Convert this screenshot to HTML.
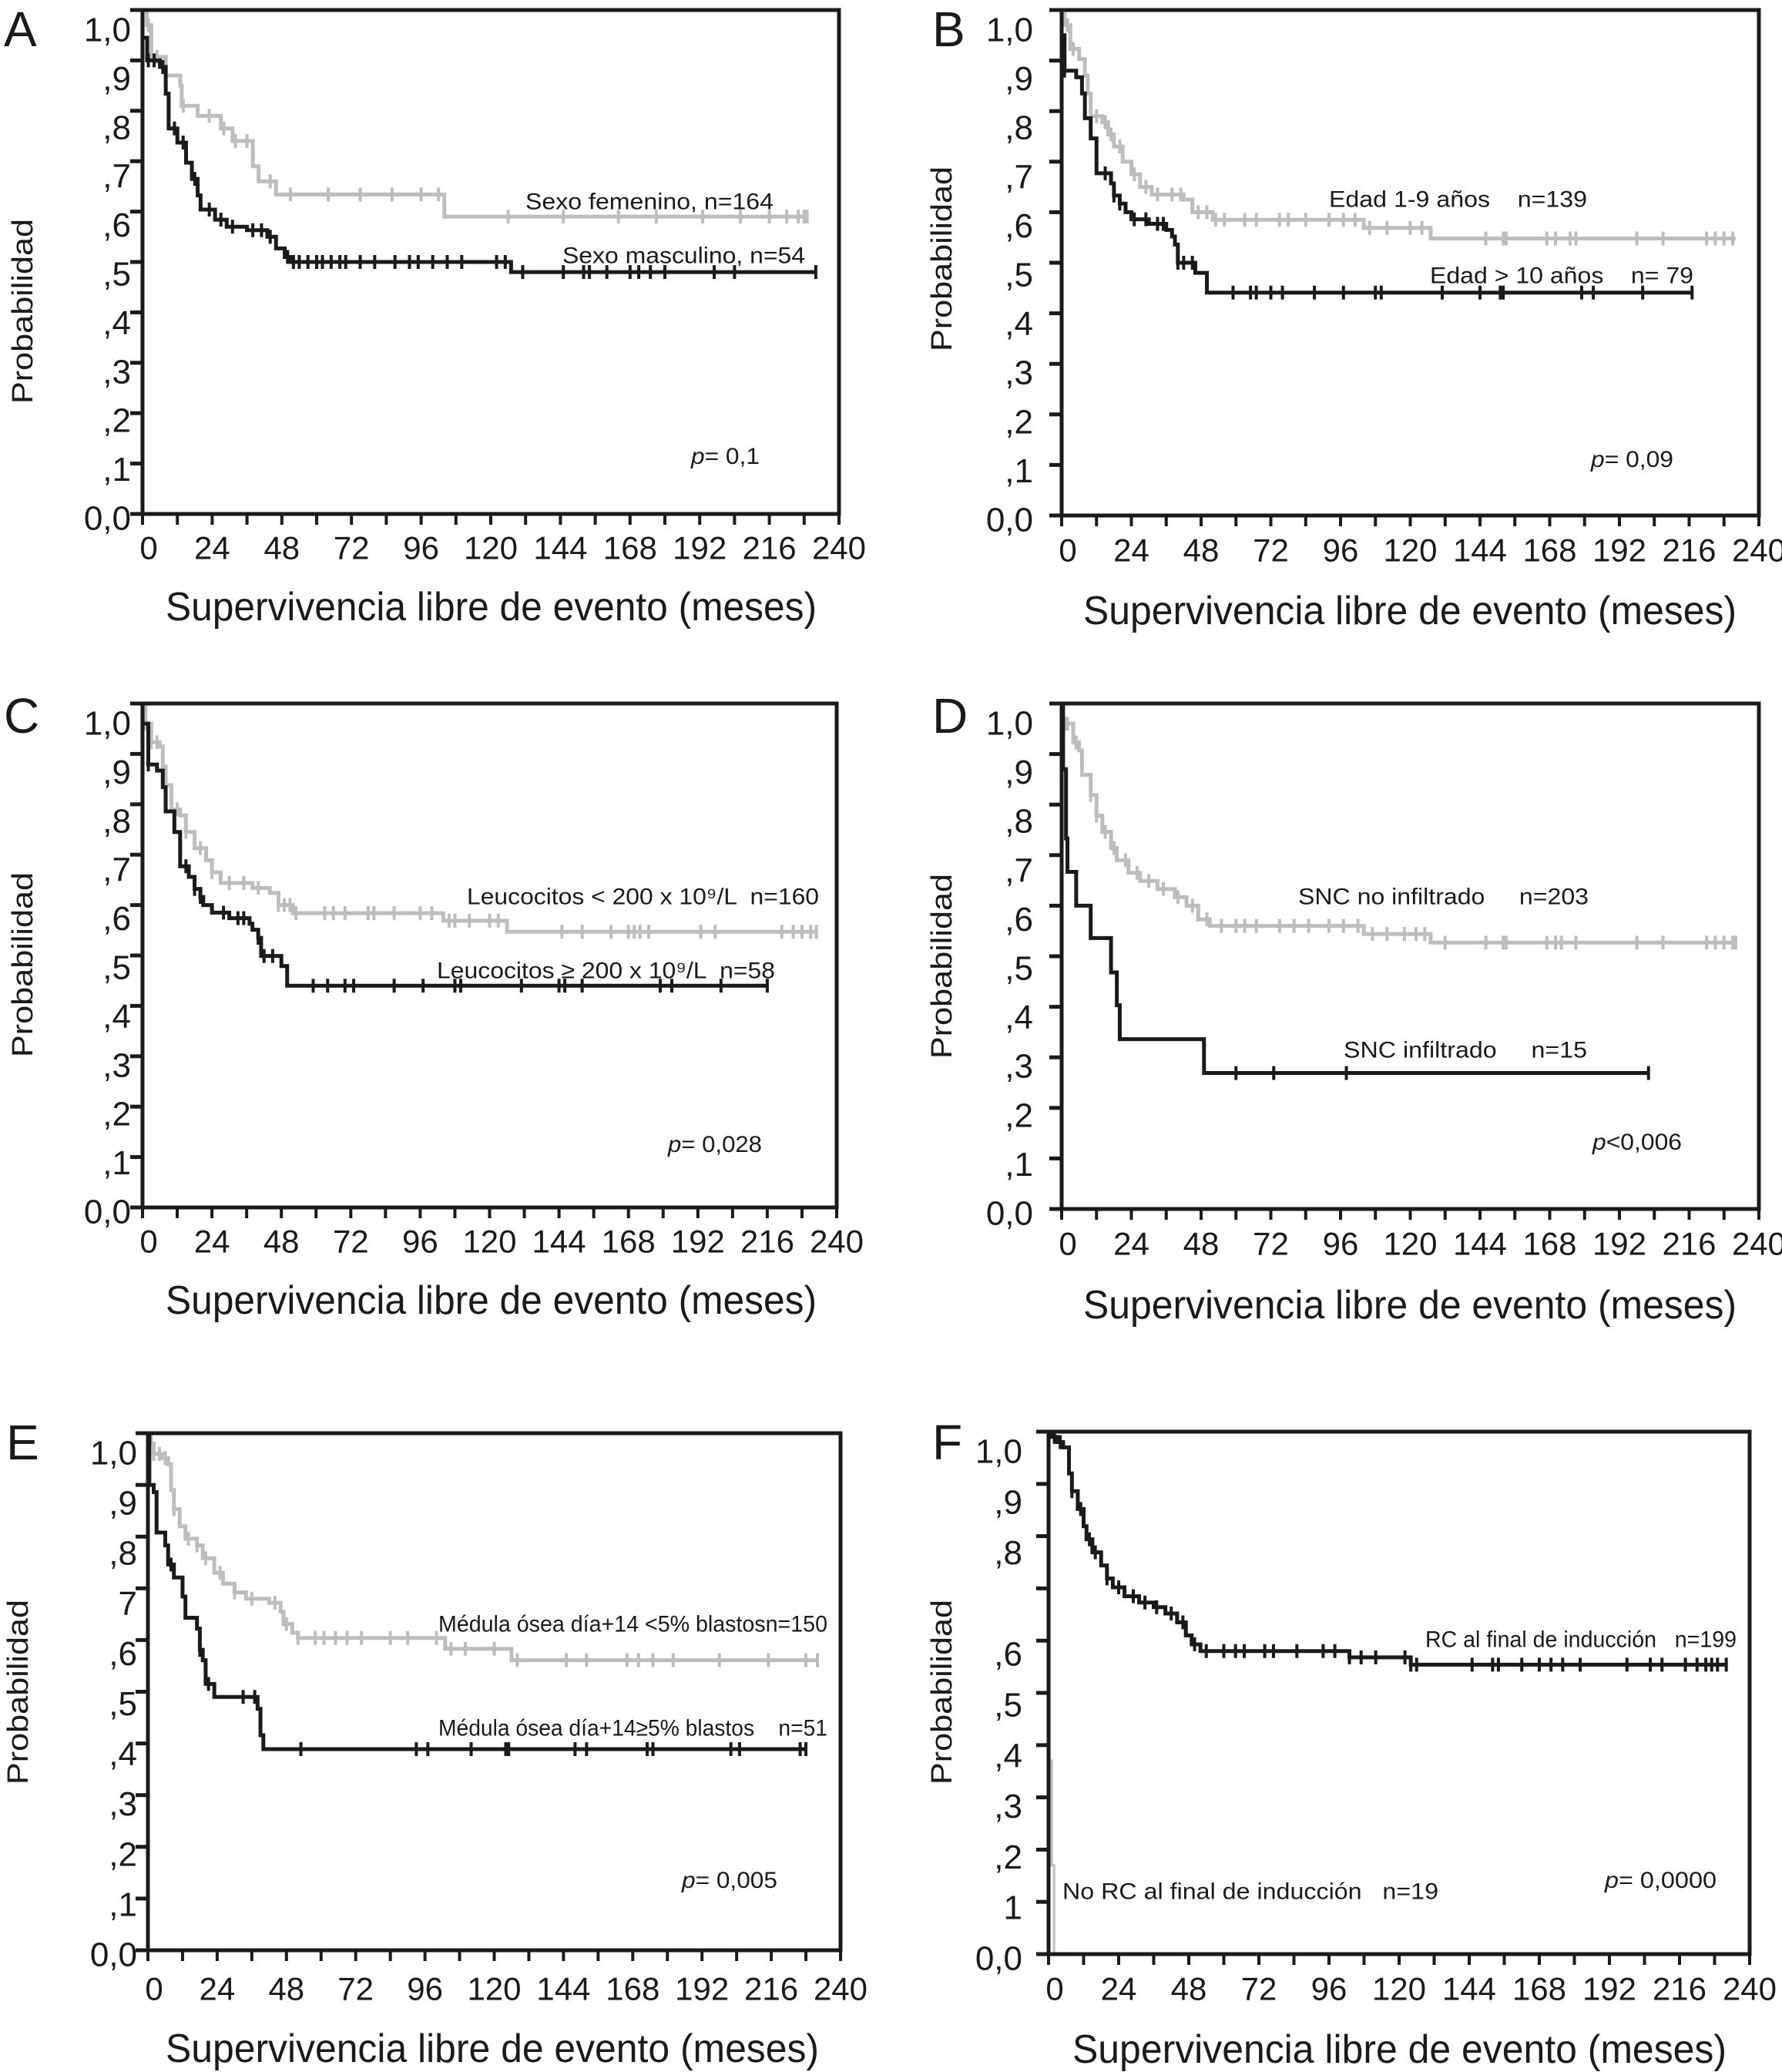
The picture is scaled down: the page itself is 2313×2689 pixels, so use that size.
<!DOCTYPE html>
<html><head><meta charset="utf-8">
<style>
html,body{margin:0;padding:0;background:#fff;}
svg{display:block;}
text{font-family:"Liberation Sans",Arial,sans-serif;fill:#1a1a1a;white-space:pre;}
</style></head>
<body>
<svg id="fig" width="2313" height="2689" viewBox="0 0 2313 2689" xmlns="http://www.w3.org/2000/svg" xml:space="preserve">
<rect x="0" y="0" width="2313" height="2689" fill="#fff"/>
</svg>
<script>
// ---- Panel A data ----
const aGrayT=[1.5,3,8,13,13.5,19,27,31,38,40,46,104];
const aGrayS=[0.97,0.907,0.87,0.85,0.81,0.79,0.765,0.74,0.69,0.66,0.634,0.59];
const aGrayEnd=229;
const aGrayC=[2,5,14,23,28,32,36,44,51,64,75,86,96,102,126,145,164,177,193,206,216,222,226,228,229];
const aBlackT=[0,1.6,6,8,9,12,15,17,19,20,25,29,36,43,46,49,51,127];
const aBlackS=[0.945,0.90,0.887,0.834,0.765,0.737,0.697,0.665,0.632,0.604,0.584,0.57,0.563,0.55,0.527,0.51,0.50,0.48];
const aBlackEnd=232;
const aBlackC=[2,4,7,11,14,18,23,27,31,38,41,44,50,52,54,57,60,62,65,68,70,75,80,87,92,95,100,105,110,122,125,131,145,152,154,160,168,171,175,180,197,204,232];
// ---- Panel B data ----
const bGrayT=[1,3,6,8,9,10,14,16,18,21,24,27,31,42,45,52,104,127];
const bGrayS=[0.97,0.923,0.903,0.87,0.835,0.79,0.778,0.754,0.73,0.70,0.675,0.65,0.635,0.625,0.60,0.585,0.569,0.548];
const bGrayEnd=232;
const bGrayC=[2,4,12,15,17,20,25,29,33,38,41,47,50,53,56,63,67,75,78,84,92,97,101,106,112,120,124,146,152,153,167,170,175,177,198,207,222,225,228,231];
const bBlackT=[0,1,5,7,8,10,12,17,18,20,22,24,30,36,38,39,40,46,50];
const bBlackS=[0.95,0.88,0.867,0.835,0.786,0.746,0.677,0.657,0.633,0.617,0.60,0.586,0.577,0.565,0.552,0.536,0.50,0.48,0.441];
const bBlackEnd=217;
const bBlackC=[1,15,18,20,25,29,33,35,40,42,45,59,65,67,72,76,87,97,108,110,131,144,151,152,179,183,200,217];
// ---- Panel C data ----
const cGrayT=[1,3,6,7,8,10,13,15,18,22,24,27,38,44,47,52,104,126];
const cGrayS=[0.96,0.923,0.915,0.875,0.838,0.79,0.778,0.745,0.713,0.689,0.665,0.644,0.634,0.624,0.60,0.584,0.569,0.547];
const cGrayEnd=233;
const cGrayC=[1,3,5,12,15,20,24,30,35,40,47,49,51,53,63,66,70,78,80,87,96,100,106,108,113,120,123,145,152,162,168,170,172,175,193,198,221,225,228,231,233];
const cBlackT=[0,2,5,7,8,11,13,16,18,20,21,24,30,37,38,40,41,48,50];
const cBlackS=[0.96,0.879,0.867,0.834,0.786,0.745,0.677,0.656,0.632,0.616,0.60,0.585,0.574,0.563,0.551,0.535,0.499,0.479,0.44];
const cBlackEnd=216;
const cBlackC=[2,15,18,20,28,33,35,40,42,45,59,64,70,73,87,97,108,110,131,144,146,152,179,183,200,216];
// ---- Panel D data ----
const dGrayT=[0.5,4,6,7,10,12,14,17,19,23,27,33,39,43,47,51,104,127];
const dGrayS=[0.96,0.923,0.907,0.859,0.819,0.778,0.746,0.714,0.69,0.665,0.649,0.633,0.617,0.60,0.573,0.56,0.544,0.527];
const dGrayEnd=232;
const dGrayC=[1,2,5,10,12,15,18,22,26,30,35,40,45,50,55,60,63,67,75,80,85,92,97,102,107,112,118,122,125,132,146,152,153,167,170,172,177,198,207,222,225,228,231,232];
const dBlackT=[0.5,1.5,2,5,10,17,19,20,49];
const dBlackS=[0.87,0.733,0.667,0.60,0.536,0.468,0.403,0.336,0.269];
const dBlackEnd=202;
const dBlackC=[60,73,98,202];
// ---- Panel E data ----
const eGrayT=[1,2,5,7,8,9,11,13,17,19,23,26,30,34,42,46,47,50,52,103,126];
const eGrayS=[0.98,0.96,0.952,0.94,0.89,0.853,0.82,0.796,0.783,0.758,0.73,0.709,0.692,0.68,0.672,0.655,0.631,0.614,0.604,0.583,0.561];
const eGrayEnd=232;
const eGrayC=[2,4,6,9,14,17,20,25,30,36,44,48,52,58,61,65,69,74,84,90,100,105,110,120,128,145,152,166,170,175,182,198,215,228,232];
const eBlackT=[0.5,2,3,6,7,9,12,13,17,18,19,20,23,38,39,40];
const eBlackS=[0.90,0.886,0.808,0.783,0.746,0.721,0.684,0.643,0.622,0.581,0.561,0.515,0.49,0.467,0.416,0.389];
const eBlackEnd=228;
const eBlackC=[8,18,21,33,37,53,93,97,112,124,125,148,152,173,175,202,205,226,228];
// ---- Panel F data ----
const fGrayT=[0.3,1.1,1.9];
const fGrayS=[0.37,0.17,0.0];
const fGrayEnd=1.9;
const fGrayC=[];
const fBlackT=[1,3,5,7,8,10,12,13,15,18,20,22,26,31,36,40,44,47,49,52,103,124];
const fBlackS=[0.99,0.98,0.97,0.92,0.886,0.852,0.819,0.794,0.769,0.744,0.719,0.702,0.685,0.673,0.664,0.652,0.635,0.61,0.593,0.58,0.568,0.554];
const fBlackEnd=232;
const fBlackC=[2,4,8,11,14,16,20,24,29,33,37,42,46,50,54,60,64,67,74,77,85,94,98,103,107,112,122,124,126,145,152,154,162,168,172,176,182,198,206,210,218,222,225,227,229,232];
// ---- tick labels ----
const xTickLabels=["0","24","48","72","96","120","144","168","192","216","240"];
const yTickLabels=["0,0",",1",",2",",3",",4",",5",",6",",7",",8",",9","1,0"];
const yTickLabelsE=["0,0",",1",",2",",3",",4",",5",",6","7",",8",",9","1,0"];
const yTickLabelsF=["0,0","1",",2",",3",",4",",5",",6","",",8",",9","1,0"];

const NS="http://www.w3.org/2000/svg";
const svg=document.getElementById('fig');
function mk(tag,attrs,parent){const e=document.createElementNS(NS,tag);for(const k in attrs)e.setAttribute(k,attrs[k]);(parent||svg).appendChild(e);return e;}
function txt(parent,x,y,s,size,anchor,len,extra){
  const t=mk('text',{x:x,y:y,'font-size':size,'text-anchor':anchor||'start','dominant-baseline':'central'},parent);
  if(len){t.setAttribute('textLength',len);t.setAttribute('lengthAdjust','spacingAndGlyphs');}
  if(extra)for(const k in extra)t.setAttribute(k,extra[k]);
  t.textContent=s;return t;
}
function stepAt(T,S,t){let s=1;for(let i=0;i<T.length;i++){if(T[i]<=t)s=S[i];}return s;}

function panel(p){
  const g=mk('g',{});
  
  
  const X=t=>p.x0+(p.x1-p.x0)*t/240;
  const Y=v=>p.y0-(p.y0-p.y1)*v;
  [[p.gT,p.gS,p.gEnd,p.gC,'#bdbdbd',p.gw||5,'series-gray'],[p.bT,p.bS,p.bEnd,p.bC,'#1a1a1a',5,'series-black']].forEach(sr=>{
    const [T,S,end,C,col,w,nm]=sr;
    let d='M'+X(0)+' '+Y(1);
    for(let i=0;i<T.length;i++){d+=' H'+X(T[i])+' V'+Y(S[i]);}
    d+=' H'+X(end);
    const path=mk('path',{d:d,fill:'none',stroke:col,'stroke-width':w},g);
    
    
    C.forEach(c=>{
      const yy=Y(stepAt(T,S,c));
      const m=mk('line',{x1:X(c),x2:X(c),y1:yy-9,y2:yy+9,stroke:col,'stroke-width':4},g);
      
      
    });
  });
  const box=mk('rect',{x:p.x0,y:p.y1,width:p.x1-p.x0,height:p.y0-p.y1,fill:'none',stroke:'#1a1a1a','stroke-width':5},g);
  
  
  for(let i=0;i<=10;i++){
    const v=i/10,yy=Y(v);
    const tk=mk('line',{x1:p.x0-16,x2:p.x0,y1:yy,y2:yy,stroke:'#1a1a1a','stroke-width':5},g);
    
    
    const lab=p.yl[i];
    if(lab!==''){
      const t=txt(g,p.ylx,yy+6+20*v,lab,44,'end');
      
      
    }
  }
  for(let i=0;i<=20;i++){
    const xx=X(i*12);
    const tk=mk('line',{x1:xx,x2:xx,y1:p.y0,y2:p.y0+14,stroke:'#1a1a1a','stroke-width':4},g);
    
    
  }
  xTickLabels.forEach((l,i)=>{
    const t=txt(g,X(i*24)+(i==0?8:0),p.xly,l,42,'middle');
    
    
  });
  const xt=txt(g,p.xtx,p.xty,'Supervivencia libre de evento (meses)',52,'start',p.xtl);
  
  
  const yt=txt(g,0,0,'Probabilidad',38,'middle',240,{transform:'translate('+p.ytx+','+p.yty+') rotate(-90)'});
  
  
  const L=mk('text',{x:p.lx,y:p.ly,'font-size':64},g);
  L.textContent=p.id;
  
  
  p.ann.forEach(a=>{
    const t=txt(g,a[0],a[2],a[3],30,'start',a[1]-a[0]);
    
    
    if(a[5]){t.textContent='';const s1=mk('tspan',{'font-style':'italic'},t);s1.textContent='p';const s2=mk('tspan',{},t);s2.textContent=a[3].slice(1);}
  });
}

panel({id:'A',x0:185,x1:1089,y0:667,y1:13,ylx:170,xly:711,xtx:215,xty:788,xtl:845,ytx:30,yty:404,lx:5,ly:60,yl:yTickLabels,
 gT:aGrayT,gS:aGrayS,gEnd:aGrayEnd,gC:aGrayC,bT:aBlackT,bS:aBlackS,bEnd:aBlackEnd,bC:aBlackC,
 ann:[[682,1004,262,'Sexo femenino, n=164','legend-gray'],[730,1045,332,'Sexo masculino, n=54','legend-black'],[897,986,592,'p= 0,1','p-value',1]]});
panel({id:'B',x0:1378,x1:2283,y0:669,y1:13,ylx:1341,xly:714,xtx:1406,xty:793,xtl:848,ytx:1223,yty:336,lx:1210,ly:60,yl:yTickLabels,
 gT:bGrayT,gS:bGrayS,gEnd:bGrayEnd,gC:bGrayC,bT:bBlackT,bS:bBlackS,bEnd:bBlackEnd,bC:bBlackC,
 ann:[[1725,2060,259,'Edad 1-9 años    n=139','legend-gray'],[1856,2198,358,'Edad > 10 años    n= 79','legend-black'],[2065,2172,596,'p= 0,09','p-value',1]]});
panel({id:'C',x0:185,x1:1086,y0:1567,y1:913,ylx:170,xly:1611,xtx:215,xty:1688,xtl:845,ytx:30,yty:1252,lx:5,ly:951,yl:yTickLabels,
 gT:cGrayT,gS:cGrayS,gEnd:cGrayEnd,gC:cGrayC,bT:cBlackT,bS:cBlackS,bEnd:cBlackEnd,bC:cBlackC,
 ann:[[606,1063,1164,'Leucocitos < 200 x 10⁹/L  n=160','legend-gray'],[567,1006,1260,'Leucocitos ≥ 200 x 10⁹/L  n=58','legend-black'],[867,989,1485,'p= 0,028','p-value',1]]});
panel({id:'D',x0:1378,x1:2283,y0:1569,y1:913,ylx:1341,xly:1614,xtx:1406,xty:1694,xtl:848,ytx:1223,yty:1254,lx:1210,ly:951,yl:yTickLabels,
 gT:dGrayT,gS:dGrayS,gEnd:dGrayEnd,gC:dGrayC,bT:dBlackT,bS:dBlackS,bEnd:dBlackEnd,bC:dBlackC,
 ann:[[1685,2062,1164,'SNC no infiltrado     n=203','legend-gray'],[1744,2060,1363,'SNC infiltrado     n=15','legend-black'],[2067,2183,1482,'p<0,006','p-value',1]]});
panel({id:'E',x0:192,x1:1091,y0:2531,y1:1860,ylx:178,xly:2581,xtx:215,xty:2659,xtl:848,ytx:24,yty:2196,lx:8,ly:1894,yl:yTickLabelsE,
 gT:eGrayT,gS:eGrayS,gEnd:eGrayEnd,gC:eGrayC,bT:eBlackT,bS:eBlackS,bEnd:eBlackEnd,bC:eBlackC,
 ann:[[569,1074,2108,'Médula ósea día+14 <5% blastosn=150','legend-gray'],[569,1074,2243,'Médula ósea día+14≥5% blastos    n=51','legend-black'],[885,1009,2440,'p= 0,005','p-value',1]]});
panel({id:'F',x0:1361,x1:2271,y0:2536,y1:1858,ylx:1327,xly:2581,xtx:1392,xty:2660,xtl:849,ytx:1223,yty:2196,lx:1210,ly:1894,yl:yTickLabelsF,gw:3,
 gT:fGrayT,gS:fGrayS,gEnd:fGrayEnd,gC:fGrayC,bT:fBlackT,bS:fBlackS,bEnd:fBlackEnd,bC:fBlackC,
 ann:[[1850,2254,2128,'RC al final de inducción   n=199','legend-black'],[1379,1867,2455,'No RC al final de inducción   n=19','legend-gray'],[2083,2228,2440,'p= 0,0000','p-value',1]]});
</script>
</body></html>
